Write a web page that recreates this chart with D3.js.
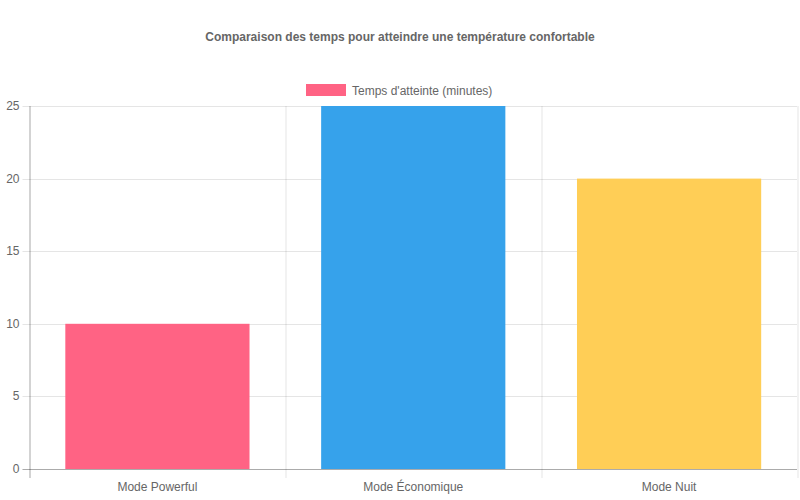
<!DOCTYPE html>
<html>
<head>
<meta charset="utf-8">
<script src="https://cdn.jsdelivr.net/npm/d3@7"></script>
<style>
  body { margin: 0; background: #fff; }
  text { font-family: "Liberation Sans", Arial, sans-serif; fill: #666; }
</style>
</head>
<body>
<svg id="chart" width="800" height="500"></svg>
<script>
// chart data
const categories = ['Mode Powerful', 'Mode Économique', 'Mode Nuit'];
const values = [10, 25, 20];
const barColors = ['#FF6384', '#36A2EB', '#FFCE56'];
const yTicks = [0, 5, 10, 15, 20, 25];
const seriesLabel = "Temps d'atteinte (minutes)";
const title = 'Comparaison des temps pour atteindre une température confortable';

const svg = d3.select('#chart');
const margin = { top: 106, right: 3, bottom: 31, left: 29.5 };
const width = 800 - margin.left - margin.right;
const height = 500 - margin.top - margin.bottom;

const x = d3.scaleBand()
    .domain(categories)
    .range([0, width])
    .paddingInner(0)
    .paddingOuter(0);

const y = d3.scaleLinear()
    .domain([0, 25])
    .range([height, 0]);

const g = svg.append('g')
    .attr('transform', `translate(${margin.left},${margin.top})`);

// title
svg.append('text')
    .attr('x', 400)
    .attr('y', 41)
    .attr('text-anchor', 'middle')
    .style('font-size', '12px')
    .style('font-weight', 'bold')
    .text(title);

// legend
const legend = svg.append('g').attr('transform', 'translate(306,84)');
legend.append('rect')
    .attr('width', 40)
    .attr('height', 12)
    .attr('fill', barColors[0]);
legend.append('text')
    .attr('x', 46)
    .attr('y', 10.5)
    .style('font-size', '12px')
    .text(seriesLabel);

// horizontal grid
g.selectAll('.hgrid')
    .data(yTicks)
    .join('line')
    .attr('class', 'hgrid')
    .attr('x1', -7)
    .attr('x2', width)
    .attr('y1', d => Math.round(y(d)) + 0.5)
    .attr('y2', d => Math.round(y(d)) + 0.5)
    .attr('stroke', 'rgba(0,0,0,0.1)');

// vertical grid (category boundaries)
const bounds = categories.map(c => x(c)).concat([width]);
g.selectAll('.vgrid')
    .data(bounds)
    .join('line')
    .attr('class', 'vgrid')
    .attr('x1', d => Math.round(d) + 0.5)
    .attr('x2', d => Math.round(d) + 0.5)
    .attr('y1', 0)
    .attr('y2', height + 9)
    .attr('stroke', 'rgba(0,0,0,0.1)');

// bars
g.selectAll('.bar')
    .data(values)
    .join('rect')
    .attr('class', 'bar')
    .attr('x', (d, i) => x(categories[i]) + x.bandwidth() * 0.14)
    .attr('width', x.bandwidth() * 0.72)
    .attr('y', d => y(d))
    .attr('height', d => height - y(d))
    .attr('fill', (d, i) => barColors[i]);

// axis lines
g.append('line')
    .attr('x1', 0.5).attr('x2', 0.5)
    .attr('y1', 0).attr('y2', height + 9)
    .attr('stroke', 'rgba(0,0,0,0.25)');
g.append('line')
    .attr('x1', -7).attr('x2', width)
    .attr('y1', height + 0.5).attr('y2', height + 0.5)
    .attr('stroke', 'rgba(0,0,0,0.25)');

// y tick labels
g.selectAll('.ylabel')
    .data(yTicks)
    .join('text')
    .attr('class', 'ylabel')
    .attr('x', -10)
    .attr('y', d => y(d) + 4)
    .attr('text-anchor', 'end')
    .style('font-size', '12px')
    .text(d => d);

// x tick labels
g.selectAll('.xlabel')
    .data(categories)
    .join('text')
    .attr('class', 'xlabel')
    .attr('x', d => x(d) + x.bandwidth() / 2)
    .attr('y', height + 22)
    .attr('text-anchor', 'middle')
    .style('font-size', '12px')
    .text(d => d);
</script>
</body>
</html>
